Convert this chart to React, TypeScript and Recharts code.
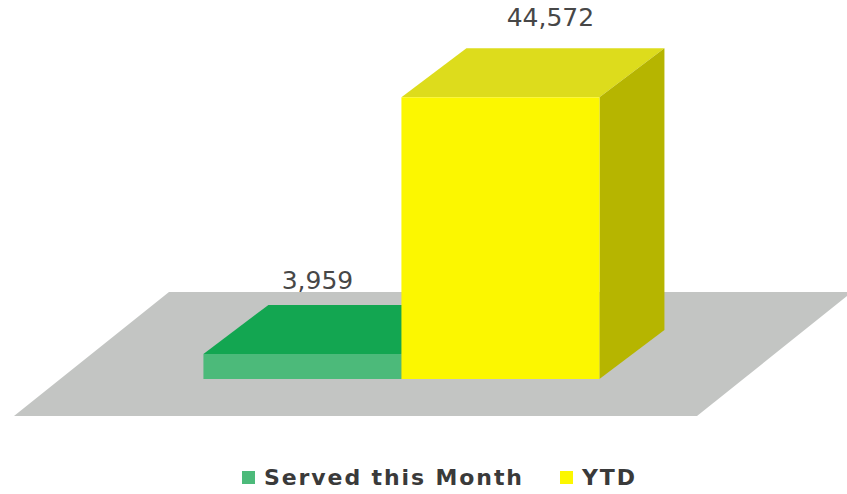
import { Bar, BarChart, LabelList, ReferenceLine, XAxis, YAxis } from "recharts";

const categories = ["Served"];
const servedThisMonth = [3959];
const yearToDate = [44572];
const seriesNames = ["Served this Month", "YTD"];

const data = categories.map((name, i) => ({
  name,
  month: servedThisMonth[i],
  ytd: yearToDate[i],
}));

const DEPTH_X = 65;
const DEPTH_Y = 49;

const faces = {
  month: { front: "#4cba7a", top: "#13a651", side: "#0e8a43" },
  ytd: { front: "#fcf700", top: "#dddc1c", side: "#b6b500" },
};

function box(colors: { front: string; top: string; side: string }) {
  return (props: any) => {
    const { x, y, width, height } = props;
    const r = x + width;
    const b = y + height;
    return (
      <g>
        <polygon
          points={`${x},${y} ${r},${y} ${r + DEPTH_X},${y - DEPTH_Y} ${x + DEPTH_X},${y - DEPTH_Y}`}
          fill={colors.top}
        />
        <polygon
          points={`${r},${y} ${r + DEPTH_X},${y - DEPTH_Y} ${r + DEPTH_X},${b - DEPTH_Y} ${r},${b}`}
          fill={colors.side}
        />
        <rect x={x} y={y} width={width} height={height} fill={colors.front} />
      </g>
    );
  };
}

// grey floor under the bars, drawn from the zero line
function floor(props: any) {
  const { x1, y1, x2 } = props;
  const fx = -46;
  const fy = 37;
  const bx = 109;
  const by = -87;
  return (
    <polygon
      points={`${x1 + fx},${y1 + fy} ${x2 + fx},${y1 + fy} ${x2 + bx},${y1 + by} ${x1 + bx},${y1 + by}`}
      fill="#c3c5c3"
    />
  );
}

function valueLabel(dx: number, dy: number) {
  return (props: any) => {
    const { x, y, width, value } = props;
    return (
      <text
        x={x + width / 2 + dx}
        y={y - DEPTH_Y + dy}
        textAnchor="middle"
        dominantBaseline="middle"
        fill="#474747"
        fontFamily="'DejaVu Sans', sans-serif"
        fontSize={25}
      >
        {Number(value).toLocaleString("en-US")}
      </text>
    );
  };
}

function ChartLegend() {
  const items = [
    { name: seriesNames[0], color: faces.month.front },
    { name: seriesNames[1], color: faces.ytd.front },
  ];
  return (
    <div
      style={{
        position: "absolute",
        left: 242,
        top: 465,
        display: "flex",
        alignItems: "center",
        gap: 36,
        whiteSpace: "nowrap",
      }}
    >
      {items.map((it) => (
        <div key={it.name} style={{ display: "flex", alignItems: "center", gap: 9 }}>
          <span style={{ width: 13, height: 13, background: it.color, display: "inline-block" }} />
          <span
            style={{
              fontFamily: "'DejaVu Sans', sans-serif",
              fontWeight: 700,
              fontSize: 22,
              letterSpacing: 1.9,
              color: "#3a3a3a",
            }}
          >
            {it.name}
          </span>
        </div>
      ))}
    </div>
  );
}

export default function App() {
  return (
    <div style={{ position: "absolute", left: 0, top: 0, width: 847, height: 494, background: "#fff" }}>
      <BarChart
        width={847}
        height={494}
        data={data}
        margin={{ top: 63, right: 104, bottom: 115, left: 60 }}
        barCategoryGap="21%"
        barGap={0}
      >
        <XAxis dataKey="name" hide />
        <YAxis hide domain={[0, 50000]} />
        <ReferenceLine y={0} shape={floor} zIndex={-50} />
        <Bar dataKey="month" name={seriesNames[0]} shape={box(faces.month)} isAnimationActive={false}>
          <LabelList dataKey="month" content={valueLabel(15, -23)} />
        </Bar>
        <Bar dataKey="ytd" name={seriesNames[1]} shape={box(faces.ytd)} isAnimationActive={false}>
          <LabelList dataKey="ytd" content={valueLabel(50, -29)} />
        </Bar>
      </BarChart>
      <ChartLegend />
    </div>
  );
}
